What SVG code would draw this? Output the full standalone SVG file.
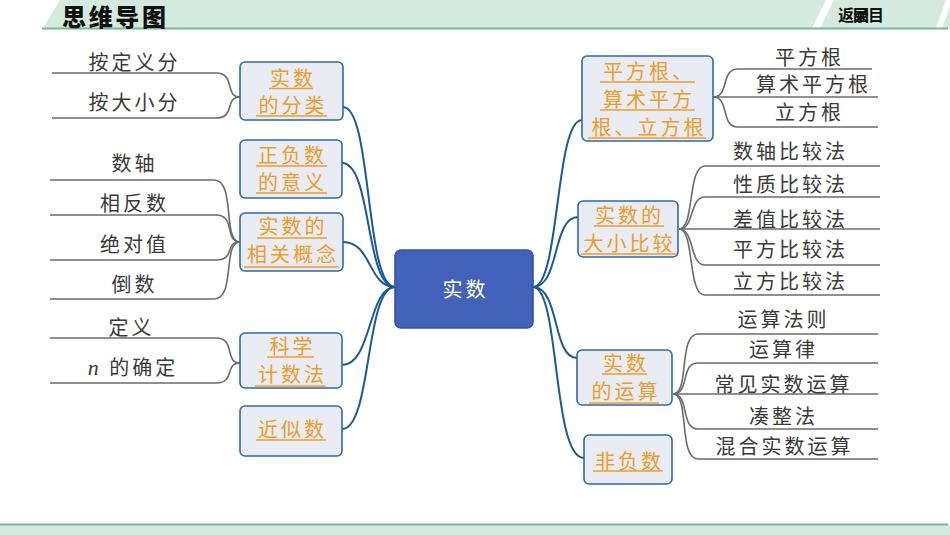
<svg xmlns="http://www.w3.org/2000/svg" width="950" height="535" viewBox="0 0 950 535">
<style>
.hdr{fill:#d5eadf}
.box rect{fill:#e9ecf2;stroke:#2e6aa6;stroke-width:1.6}
.box text{font-family:"Noto Sans CJK SC","Noto Sans",sans-serif;font-size:20px;fill:#ec9c2c;text-anchor:middle;letter-spacing:3px}
.ul{stroke:#ec9c2c;stroke-width:1.6}
.leaf{font-family:"Noto Sans CJK SC","Noto Sans",sans-serif;font-size:20px;fill:#3a3a3a;text-anchor:middle;letter-spacing:3px}
.main path{fill:none;stroke:#1c5a96;stroke-width:2}
.sub path{fill:none;stroke:#6b6b6b;stroke-width:1.6}
</style>
<rect width="950" height="535" fill="#ffffff"/>
<g id="header">
<polygon class="hdr" points="43,28 60,0 950,0 950,28"/>
<polygon points="812,28 820,28 834,0 826,0" fill="#ffffff"/>
<polygon points="936,28 942,28 950,6 950,0 946,0" fill="#ffffff"/>
<line x1="42" y1="28.5" x2="948" y2="28.5" stroke="#79b894" stroke-width="2"/>
<text x="62" y="26" font-family="'Noto Sans CJK SC',sans-serif" font-size="24" font-weight="900" fill="#111" letter-spacing="2" textLength="106">思维导图</text>
<text font-family="'Noto Sans CJK SC',sans-serif" font-size="16" font-weight="700" fill="#111" y="21"><tspan x="838">返</tspan><tspan x="853">回</tspan><tspan x="868">目</tspan><tspan x="853">录</tspan></text>
</g>
<g id="footer">
<rect class="hdr" x="0" y="525" width="950" height="10"/>
<line x1="0" y1="524.5" x2="948" y2="524.5" stroke="#79b894" stroke-width="2"/>
</g>
<g id="connectors">
<g class="main">
<path d="M343,107 C372,107 365,287 395,287"/>
<path d="M342,163 C372,163 365,287 395,287"/>
<path d="M343,242 C372,242 368,287 395,287"/>
<path d="M342,365 C372,365 368,287 395,287"/>
<path d="M342,429 C372,429 365,287 395,287"/>
<path d="M533,287 C560,287 555,120 582,120"/>
<path d="M533,287 C560,287 552,217 578,217"/>
<path d="M533,287 C560,287 552,358 577,358"/>
<path d="M533,287 C560,287 552,458 584,458"/>
</g>
<g class="sub">
<path d="M52,73 H216 C236,73 224,97 240,97"/>
<path d="M52,118 H216 C236,118 224,97 240,97"/>
<path d="M50,180 H214 C236,180 222,242 240,242"/>
<path d="M50,215 H216 C236,215 224,242 240,242"/>
<path d="M50,260 H216 C236,260 224,242 240,242"/>
<path d="M50,299 H214 C236,299 222,242 240,242"/>
<path d="M50,338 H216 C236,338 224,363 240,363"/>
<path d="M50,383 H216 C236,383 224,363 240,363"/>
<path d="M713,97 C730,97 720,69 738,69 H872"/>
<path d="M713,97 H878"/>
<path d="M713,97 C730,97 720,127 738,127 H878"/>
<path d="M679,229 C695,229 687,166 705,166 H880"/>
<path d="M679,229 C695,229 689,197 705,197 H880"/>
<path d="M679,229 H880"/>
<path d="M679,229 C695,229 689,265 705,265 H880"/>
<path d="M679,229 C695,229 687,295 705,295 H880"/>
<path d="M673,394 C690,394 678,334 698,334 H878"/>
<path d="M673,394 C690,394 680,363 698,363 H878"/>
<path d="M673,394 H878"/>
<path d="M673,394 C690,394 680,429 698,429 H878"/>
<path d="M673,394 C690,394 678,459 698,459 H878"/>
</g>
</g>
<g id="center">
<rect x="395" y="250" width="138" height="78" rx="6" fill="#4361b8" stroke="#2d559f" stroke-width="1.6"/>
<text x="465.5" y="297" font-family="'Noto Sans CJK SC',sans-serif" font-size="20" fill="#ffffff" text-anchor="middle" letter-spacing="3">实数</text>
</g>
<g id="n-fenlei" class="box">
<rect x="240" y="62" width="103" height="58" rx="5"/>
<text x="293" y="86">实数</text><text x="293" y="113">的分类</text>
<line class="ul" x1="269" y1="88.5" x2="313" y2="88.5"/><line class="ul" x1="256" y1="116" x2="327" y2="116"/>
</g>
<g id="n-zhengfu" class="box">
<rect x="240" y="140" width="102" height="58" rx="5"/>
<text x="292.5" y="163">正负数</text><text x="292.5" y="190">的意义</text>
<line class="ul" x1="256" y1="166" x2="327" y2="166"/><line class="ul" x1="256" y1="193" x2="327" y2="193"/>
</g>
<g id="n-gainian" class="box">
<rect x="240" y="213" width="103" height="58" rx="5"/>
<text x="293" y="234">实数的</text><text x="293" y="262">相关概念</text>
<line class="ul" x1="257" y1="238" x2="327" y2="238"/><line class="ul" x1="244" y1="267" x2="339" y2="267"/>
</g>
<g id="n-kexue" class="box">
<rect x="240" y="333" width="102" height="55" rx="5"/>
<text x="292.5" y="354">科学</text><text x="292.5" y="382">计数法</text>
<line class="ul" x1="267" y1="357" x2="314" y2="357"/><line class="ul" x1="255" y1="386" x2="326" y2="386"/>
</g>
<g id="n-jinsi" class="box">
<rect x="240" y="406" width="102" height="50" rx="5"/>
<text x="292.5" y="437">近似数</text>
<line class="ul" x1="256" y1="440" x2="326" y2="440"/>
</g>
<g id="n-pingfang" class="box">
<rect x="582" y="56" width="131" height="85" rx="5"/>
<text x="649" y="79">平方根、</text><text x="649" y="107">算术平方</text><text x="649" y="135">根、立方根</text>
<line class="ul" x1="600" y1="82" x2="695" y2="82"/><line class="ul" x1="600" y1="110" x2="695" y2="110"/><line class="ul" x1="588" y1="138" x2="706" y2="138"/>
</g>
<g id="n-bijiao" class="box">
<rect x="578" y="201" width="100" height="56" rx="5"/>
<text x="629.5" y="223">实数的</text><text x="629.5" y="251">大小比较</text>
<line class="ul" x1="594" y1="226" x2="664" y2="226"/><line class="ul" x1="581" y1="254" x2="677" y2="254"/>
</g>
<g id="n-yunsuan" class="box">
<rect x="577" y="350" width="95" height="55" rx="5"/>
<text x="626" y="371">实数</text><text x="626" y="399">的运算</text>
<line class="ul" x1="602" y1="374" x2="647" y2="374"/><line class="ul" x1="589" y1="403" x2="659" y2="403"/>
</g>
<g id="n-feifu" class="box">
<rect x="584" y="435" width="88" height="49" rx="5"/>
<text x="629.5" y="469">非负数</text>
<line class="ul" x1="593" y1="471" x2="663" y2="471"/>
</g>
<g id="leaves">
<text class="leaf" x="134.5" y="70">按定义分</text>
<text class="leaf" x="134.5" y="110">按大小分</text>
<text class="leaf" x="134.5" y="171">数轴</text>
<text class="leaf" x="134.5" y="211">相反数</text>
<text class="leaf" x="134.5" y="252">绝对值</text>
<text class="leaf" x="134.5" y="292">倒数</text>
<text class="leaf" x="131.5" y="335">定义</text>
<text class="leaf" x="133" y="375"><tspan font-family="'Liberation Serif',serif" font-style="italic" font-size="22">n</tspan> 的确定</text>
<text class="leaf" x="809.5" y="65">平方根</text>
<text class="leaf" x="813.5" y="92">算术平方根</text>
<text class="leaf" x="809.5" y="120">立方根</text>
<text class="leaf" x="790.5" y="159">数轴比较法</text>
<text class="leaf" x="790.5" y="192">性质比较法</text>
<text class="leaf" x="790.5" y="227">差值比较法</text>
<text class="leaf" x="790.5" y="257">平方比较法</text>
<text class="leaf" x="790.5" y="289">立方比较法</text>
<text class="leaf" x="783.5" y="327">运算法则</text>
<text class="leaf" x="783.5" y="357">运算律</text>
<text class="leaf" x="783.5" y="392">常见实数运算</text>
<text class="leaf" x="783.5" y="424">凑整法</text>
<text class="leaf" x="784.5" y="454">混合实数运算</text>
</g>
</svg>
